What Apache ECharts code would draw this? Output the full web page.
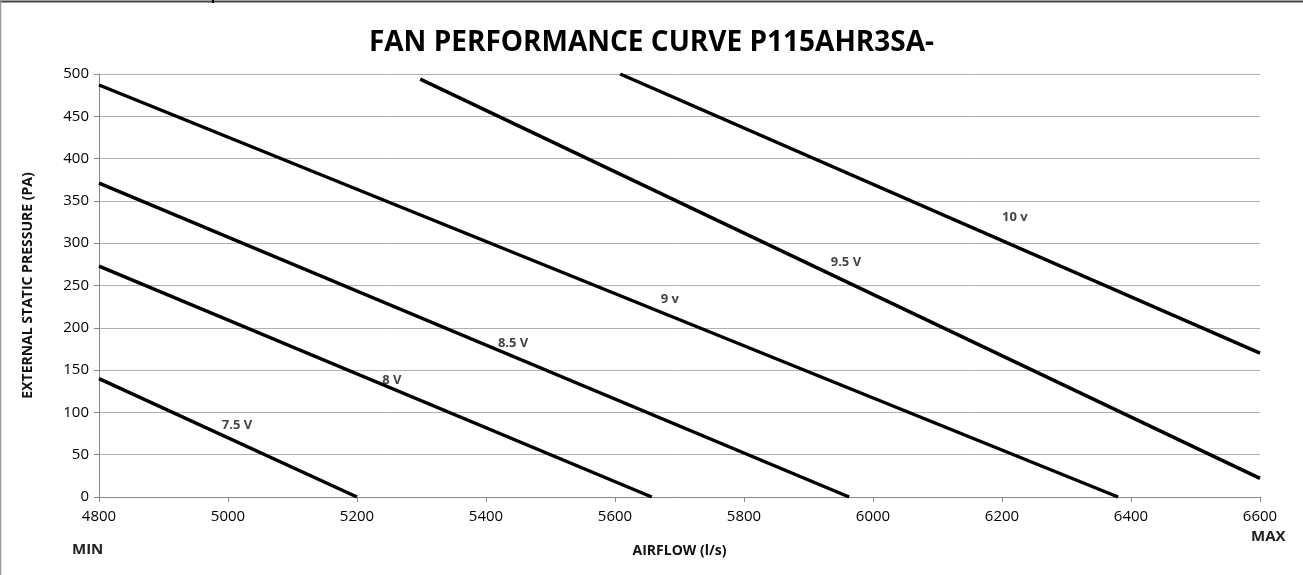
<!DOCTYPE html>
<html><head><meta charset="utf-8">
<script src="https://cdn.jsdelivr.net/npm/echarts@6/dist/echarts.min.js"></script>
<style>html,body{margin:0;padding:0;background:#fff}#c{width:1303px;height:575px}</style>
</head><body><div id="c"></div>
<script>
const seriesNames = ['7.5 V', '8 V', '8.5 V', '9 v', '9.5 V', '10 v'];
const line75 = [[4800, 140], [5200, 0]];
const line80 = [[4800, 273], [5657, 0]];
const line85 = [[4800, 371], [5963, 0]];
const line90 = [[4800, 487], [6380, 0]];
const line95 = [[5298, 494], [6600, 22]];
const line100 = [[5608, 500], [6600, 170]];
const labelPoints = [[5014, 85], [5254, 138], [5442, 182], [5685, 234], [5958, 277], [6220, 331]];
const xTicks = [4800, 5000, 5200, 5400, 5600, 5800, 6000, 6200, 6400, 6600];
const yTicks = [0, 50, 100, 150, 200, 250, 300, 350, 400, 450, 500];

const FONT = '"Open Sans", "Noto Sans", sans-serif';
const lines = [line75, line80, line85, line90, line95, line100];
const series = lines.map((d, i) => ({
  name: seriesNames[i], type: 'line', data: d, symbol: 'none', silent: true,
  lineStyle: { color: '#000', width: 3.5 }
}));
series.push({
  type: 'scatter', symbolSize: 0, silent: true,
  data: labelPoints.map((p, i) => ({ value: p, name: seriesNames[i] })),
  label: { show: true, position: 'inside', formatter: p => p.name,
    fontFamily: FONT, fontWeight: 'bold', fontSize: 13, color: '#111' }
});

const chart = echarts.init(document.getElementById('c'));
chart.setOption({
  animation: false,
  backgroundColor: '#fff',
  title: { text: 'FAN PERFORMANCE CURVE P115AHR3SA-', left: 'center', top: 24,
    textStyle: { fontFamily: FONT, fontWeight: 'bold', fontSize: 28, color: '#000' } },
  grid: { left: 99, right: 43, top: 74, bottom: 78 },
  xAxis: {
    type: 'value', min: xTicks[0], max: xTicks[xTicks.length - 1], interval: 200,
    name: 'AIRFLOW (l/s)', nameLocation: 'middle', nameGap: 47,
    nameTextStyle: { fontFamily: FONT, fontWeight: 'bold', fontSize: 14, color: '#111' },
    axisLine: { lineStyle: { color: '#888', width: 1 } },
    axisTick: { show: true, length: 5, lineStyle: { color: '#888' } },
    axisLabel: { fontFamily: FONT, fontSize: 15, color: '#000', margin: 12, formatter: v => String(v) },
    splitLine: { show: false }
  },
  yAxis: {
    type: 'value', min: yTicks[0], max: yTicks[yTicks.length - 1], interval: 50,
    name: 'EXTERNAL STATIC PRESSURE (PA)', nameLocation: 'middle', nameGap: 64,
    nameTextStyle: { fontFamily: FONT, fontWeight: 'bold', fontSize: 14, color: '#111' },
    axisLine: { show: true, lineStyle: { color: '#888', width: 1 } },
    axisTick: { show: true, length: 5, lineStyle: { color: '#888' } },
    axisLabel: { fontFamily: FONT, fontSize: 15, color: '#000', margin: 10, formatter: v => String(v) },
    splitLine: { show: true, lineStyle: { color: '#b0b0b0', width: 1 } }
  },
  graphic: [
    { type: 'text', left: 72, top: 542, style: { text: 'MIN', font: 'bold 15px ' + FONT, fill: '#222' } },
    { type: 'text', left: 1251, top: 529, style: { text: 'MAX', font: 'bold 15px ' + FONT, fill: '#222' } },
    { type: 'line', shape: { x1: 0, y1: 1.5, x2: 1303, y2: 1.5 }, style: { stroke: '#444', lineWidth: 2 } },
    { type: 'line', shape: { x1: 213, y1: 0, x2: 213, y2: 3 }, style: { stroke: '#000', lineWidth: 2 } },
    { type: 'line', shape: { x1: 0.5, y1: 0, x2: 0.5, y2: 575 }, style: { stroke: '#999', lineWidth: 1.5 } }
  ],
  series: series
});
</script></body></html>
